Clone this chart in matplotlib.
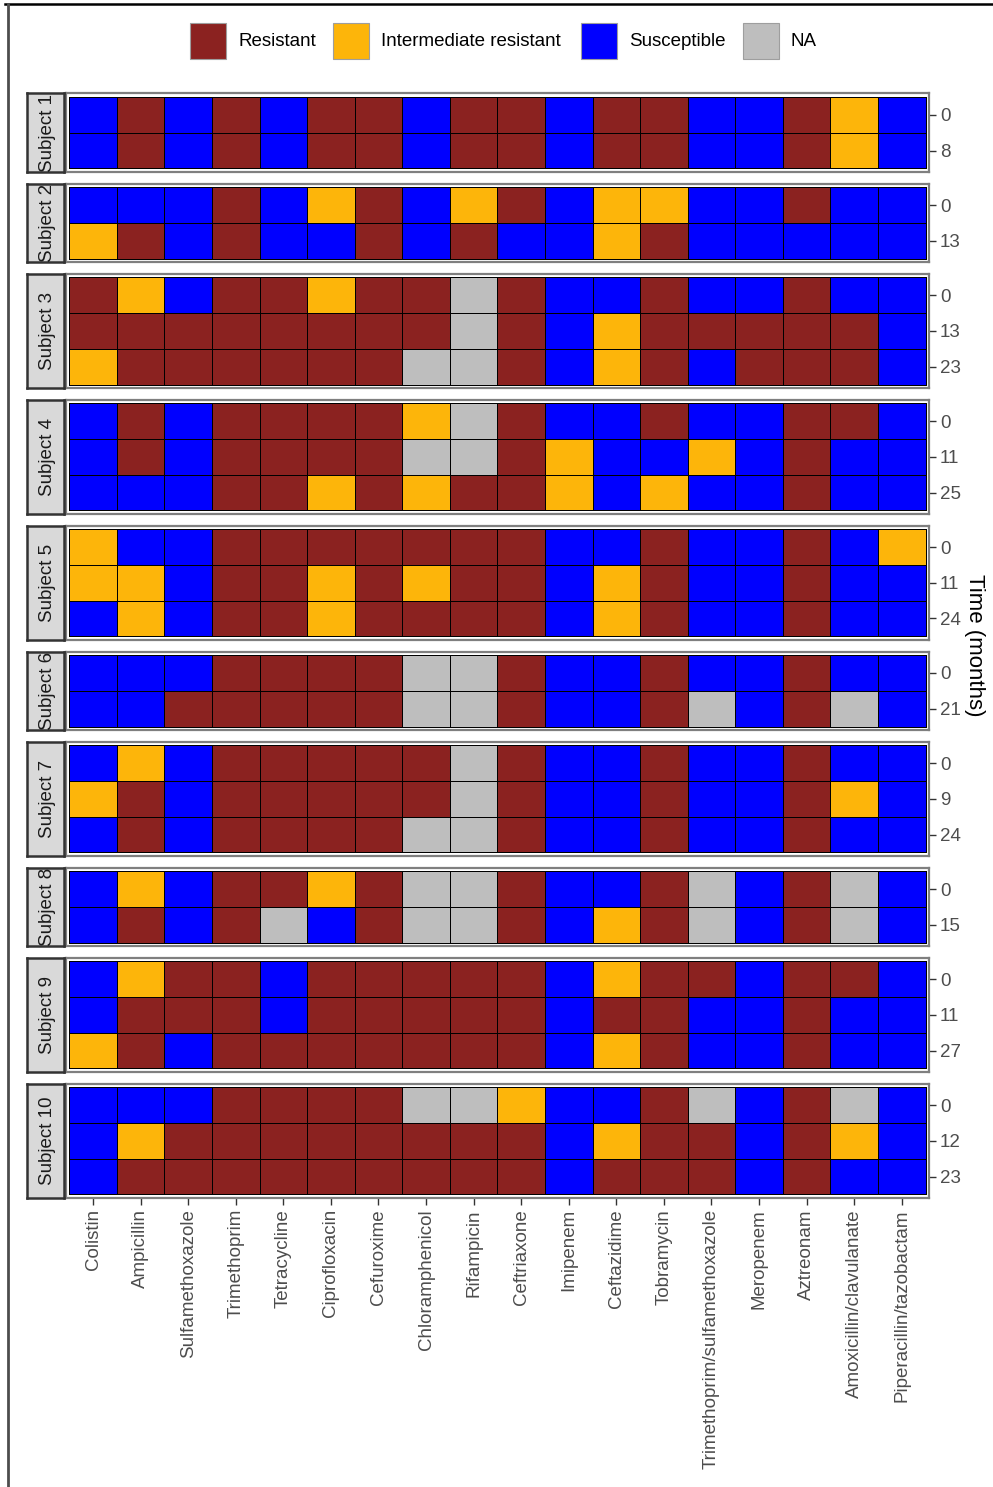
import numpy as np
import matplotlib
matplotlib.use('Agg')
import matplotlib.pyplot as plt
from matplotlib.colors import ListedColormap
from matplotlib.patches import Rectangle
from matplotlib.lines import Line2D

plt.rcParams['font.family'] = ['Liberation Sans', 'DejaVu Sans']

# Antibiotics (x axis)
antibiotics = ['Colistin', 'Ampicillin', 'Sulfamethoxazole', 'Trimethoprim', 'Tetracycline',
               'Ciprofloxacin', 'Cefuroxime', 'Chloramphenicol', 'Rifampicin', 'Ceftriaxone',
               'Imipenem', 'Ceftazidime', 'Tobramycin', 'Trimethoprim/sulfamethoxazole',
               'Meropenem', 'Aztreonam', 'Amoxicillin/clavulanate', 'Piperacillin/tazobactam']

subjects = ['Subject %d' % i for i in range(1, 11)]

# sampling times (months) per subject
times = [
    [0, 8],
    [0, 13],
    [0, 13, 23],
    [0, 11, 25],
    [0, 11, 24],
    [0, 21],
    [0, 9, 24],
    [0, 15],
    [0, 11, 27],
    [0, 12, 23],
]

# R = resistant, I = intermediate, S = susceptible, N = NA
profiles = [
    ['S R S R S R R S R R S R R S S R I S',
     'S R S R S R R S R R S R R S S R I S'],
    ['S S S R S I R S I R S I I S S R S S',
     'I R S R S S R S R S S I R S S S S S'],
    ['R I S R R I R R N R S S R S S R S S',
     'R R R R R R R R N R S I R R R R R S',
     'I R R R R R R N N R S I R S R R R S'],
    ['S R S R R R R I N R S S R S S R R S',
     'S R S R R R R N N R I S S I S R S S',
     'S S S R R I R I R R I S I S S R S S'],
    ['I S S R R R R R R R S S R S S R S I',
     'I I S R R I R I R R S I R S S R S S',
     'S I S R R I R R R R S I R S S R S S'],
    ['S S S R R R R N N R S S R S S R S S',
     'S S R R R R R N N R S S R N S R N S'],
    ['S I S R R R R R N R S S R S S R S S',
     'I R S R R R R R N R S S R S S R I S',
     'S R S R R R R N N R S S R S S R S S'],
    ['S I S R R I R N N R S S R N S R N S',
     'S R S R N S R N N R S I R N S R N S'],
    ['S I R R S R R R R R S I R R S R R S',
     'S R R R S R R R R R S R R S S R S S',
     'I R S R R R R R R R S I R S S R S S'],
    ['S S S R R R R N N I S S R N S R N S',
     'S I R R R R R R R R S I R R S R I S',
     'S R R R R R R R R R S R R R S R S S'],
]

categories = ['Resistant', 'Intermediate resistant', 'Susceptible', 'NA']
codes = {'R': 0, 'I': 1, 'S': 2, 'N': 3}
colors = ['#8B2220', '#FDB50A', '#0000FF', '#BEBEBE']
cmap = ListedColormap(colors)

W, H = 993, 1487
fig = plt.figure(figsize=(W / 100, H / 100), dpi=100)

def fx(px):
    return px / W

def fh(py):
    return py / H

# layout in pixels
cell_left, cell_right = 69.3, 925.5
row_h, gap, top0 = 35.7, 18.8, 97.0
pad = 3.5
col_w = (cell_right - cell_left) / len(antibiotics)

# outer frame lines
fig.add_artist(Line2D([fx(5), 1], [1 - fh(4.3)] * 2, color='black', lw=1.8, transform=fig.transFigure))
fig.add_artist(Line2D([fx(8), fx(8)], [0, 1 - fh(4.3)], color='#4D4D4D', lw=2, transform=fig.transFigure))

top = top0
for k, (subj, tms, prof) in enumerate(zip(subjects, times, profiles)):
    nrow = len(tms)
    data = np.array([[codes[c] for c in row.split()] for row in prof])
    hpx = nrow * row_h
    # panel axes (includes small white padding)
    x0 = cell_left - pad
    y_top = top - pad
    wpx = cell_right - cell_left + 2 * pad
    hpx_p = hpx + 2 * pad
    ax = fig.add_axes([fx(x0), 1 - fh(y_top + hpx_p), fx(wpx), fh(hpx_p)])
    ax.pcolormesh(np.arange(len(antibiotics) + 1), np.arange(nrow + 1), data,
                  cmap=cmap, vmin=-0.5, vmax=3.5, edgecolors='black', linewidth=0.6)
    ax.set_xlim(-pad / col_w, len(antibiotics) + pad / col_w)
    ax.set_ylim(nrow + pad / row_h, -pad / row_h)
    for s in ax.spines.values():
        s.set_color('#7F7F7F')
        s.set_linewidth(1.6)
    ax.yaxis.tick_right()
    ax.set_yticks(np.arange(nrow) + 0.5)
    ax.set_yticklabels([str(t) for t in tms], fontsize=13.5, color='#4D4D4D')
    ax.tick_params(axis='y', length=5, width=1, color='#333333', pad=3)
    ax.set_xticks(np.arange(len(antibiotics)) + 0.5)
    if k == len(subjects) - 1:
        ax.set_xticklabels(antibiotics, rotation=90, fontsize=13.5, color='#4D4D4D')
        ax.tick_params(axis='x', length=5, width=1, color='#333333', pad=3)
    else:
        ax.tick_params(axis='x', length=0, labelbottom=False)

    # strip on the left
    sax = fig.add_axes([fx(27.3), 1 - fh(y_top + hpx_p), fx(37), fh(hpx_p)])
    sax.set_facecolor('#D9D9D9')
    sax.set_xticks([])
    sax.set_yticks([])
    for s in sax.spines.values():
        s.set_color('#333333')
        s.set_linewidth(1.8)
    sax.text(0.55, 0.5, subj, rotation=90, ha='center', va='center', fontsize=13.5,
             color='#1A1A1A', transform=sax.transAxes, clip_on=True)

    top = top + hpx + gap

# axis title on the right
fig.text(fx(975), 1 - fh(645), 'Time (months)', rotation=270, ha='center', va='center', fontsize=16)

# legend
lax = fig.add_axes([0, 0, 1, 1], facecolor='none')
lax.set_xlim(0, W)
lax.set_ylim(H, 0)
lax.axis('off')
key_x = [190, 333, 581, 743]
for kx, lab, col in zip(key_x, categories, colors):
    lax.add_patch(Rectangle((kx, 23), 36, 36, facecolor=col, edgecolor='#9E9E9E', lw=0.8))
    lax.text(kx + 48, 41, lab, ha='left', va='center', fontsize=13.5, color='black')

fig.savefig('out.png', dpi=100)
